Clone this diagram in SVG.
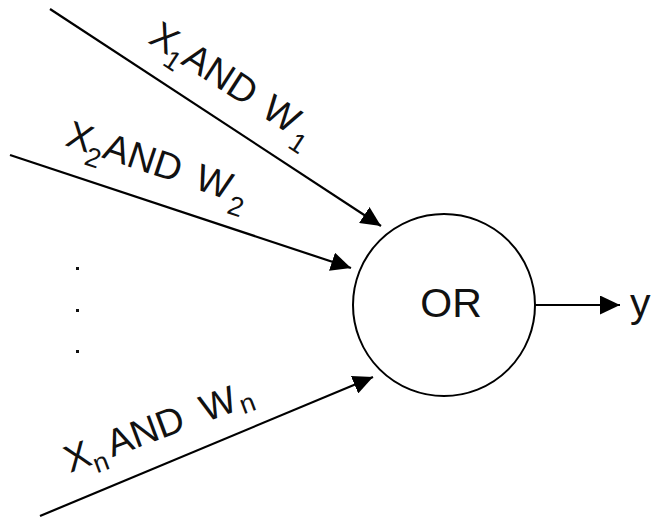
<svg xmlns="http://www.w3.org/2000/svg" width="656" height="520" viewBox="0 0 656 520">
  <defs>
    <marker id="head" viewBox="0 0 20 19" refX="20" refY="9.5" markerWidth="20" markerHeight="19" markerUnits="userSpaceOnUse" orient="auto">
      <path d="M0,0 L20,9.5 L0,19 Z" fill="#000"/>
    </marker>
    <style>
      .wire { stroke: #000; stroke-width: 2.2; fill: none; marker-end: url(#head); }
      .lbl { font-family: "Liberation Sans", Arial, sans-serif; font-size: 38px; fill: #111; }
      .sub { font-size: 27px; }
      .gate { fill: #fff; stroke: #000; stroke-width: 2; }
      .big { font-family: "Liberation Sans", Arial, sans-serif; font-size: 41px; fill: #111; }
      .dot { fill: #111; }
    </style>
  </defs>

  <rect width="656" height="520" fill="#fff"/>

  <!-- OR gate node -->
  <g id="or-gate">
    <circle class="gate" cx="444" cy="305" r="91"/>
    <text class="big" x="451" y="317" text-anchor="middle">OR</text>
  </g>

  <!-- output label -->
  <g id="output-y">
    <text class="big" x="630" y="317">y</text>
  </g>

  <!-- ellipsis between the second and last input -->
  <g id="ellipsis">
    <rect class="dot" x="76" y="267" width="3" height="3"/>
    <rect class="dot" x="76" y="309" width="3" height="3"/>
    <rect class="dot" x="76" y="350" width="3" height="3"/>
  </g>

  <!-- connectors -->
  <g id="connectors">
    <line class="wire" x1="50" y1="9" x2="381" y2="226"/>
    <line class="wire" x1="10" y1="155" x2="351" y2="268"/>
    <line class="wire" x1="40" y1="516" x2="373" y2="377"/>
    <line class="wire" x1="535" y1="305" x2="620" y2="305"/>
  </g>

  <!-- input labels, laid out along each wire -->
  <g id="label-1" transform="translate(147,42) rotate(33)">
    <text class="lbl"><tspan x="0" y="0">X</tspan><tspan class="sub" x="24" y="11">1</tspan><tspan x="39" y="0">AND</tspan><tspan x="134" y="0">W</tspan><tspan class="sub" x="174" y="12">1</tspan></text>
  </g>
  <g id="label-2" transform="translate(64,145) rotate(18.5)">
    <text class="lbl"><tspan x="0" y="0">X</tspan><tspan class="sub" x="24" y="12">2</tspan><tspan x="39" y="0">AND</tspan><tspan x="136" y="0">W</tspan><tspan class="sub" x="175" y="13">2</tspan></text>
  </g>
  <g id="label-n" transform="translate(70,473) rotate(-20.5)">
    <text class="lbl"><tspan x="0" y="0">X</tspan><tspan class="sub" x="25" y="10">n</tspan><tspan x="45" y="0">AND</tspan><tspan x="145" y="0">W</tspan><tspan class="sub" x="183" y="6">n</tspan></text>
  </g>
</svg>
